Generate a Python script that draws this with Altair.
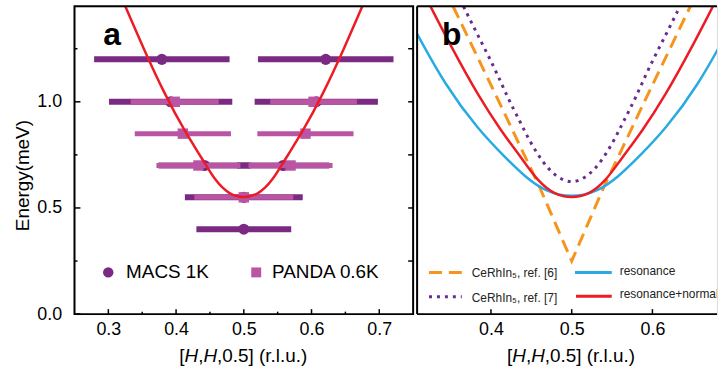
import altair as alt
import pandas as pd

# ---------------- data ----------------
# panel a: MACS 1K (circles) with horizontal error bars
macs_h = [0.379, 0.621, 0.392, 0.607, 0.442, 0.558, 0.500, 0.500]
macs_E = [1.20, 1.20, 1.00, 1.00, 0.70, 0.70, 0.55, 0.40]
macs_err = [0.100, 0.100, 0.091, 0.091, 0.068, 0.068, 0.087, 0.070]

# panel a: PANDA 0.6K (squares) with horizontal error bars
panda_h = [0.398, 0.603, 0.410, 0.591, 0.433, 0.569, 0.500]
panda_E = [1.00, 1.00, 0.85, 0.85, 0.70, 0.70, 0.55]
panda_err = [0.065, 0.064, 0.071, 0.071, 0.062, 0.062, 0.073]

# resonance+normal (red) dispersion, used in both panels
red_h = [0.325, 0.352, 0.384, 0.413, 0.438, 0.458, 0.479, 0.500,
         0.521, 0.542, 0.562, 0.587, 0.616, 0.648, 0.675]
red_E = [1.45, 1.25, 1.03, 0.86, 0.735, 0.626, 0.562, 0.546,
         0.562, 0.626, 0.735, 0.86, 1.03, 1.25, 1.45]

# resonance (blue)
blue_h = [0.3085, 0.343, 0.384, 0.417, 0.442, 0.466, 0.500,
          0.534, 0.558, 0.583, 0.616, 0.657, 0.6915]
blue_E = [1.32, 1.08, 0.87, 0.74, 0.648, 0.580, 0.546,
          0.580, 0.648, 0.74, 0.87, 1.08, 1.32]

# CeRhIn5 ref [7] (purple dotted)
purple_h = [0.366, 0.384, 0.405, 0.421, 0.436, 0.446, 0.458, 0.470, 0.483, 0.500,
            0.517, 0.530, 0.542, 0.554, 0.564, 0.579, 0.595, 0.616, 0.634]
purple_E = [1.449, 1.311, 1.156, 1.016, 0.907, 0.829, 0.751, 0.688, 0.642, 0.615,
            0.642, 0.688, 0.751, 0.829, 0.907, 1.016, 1.156, 1.311, 1.449]

# CeRhIn5 ref [6] (orange dashed)
orange_h = [0.353, 0.410, 0.460, 0.500, 0.540, 0.590, 0.647]
orange_E = [1.45, 1.00, 0.60, 0.25, 0.60, 1.00, 1.45]

# ticks
ya_major = [0.0, 0.5, 1.0]
ya_minor = [0.25, 0.75, 1.25]
ya_right = [0.25, 0.5, 0.75, 1.0, 1.25]
xa_major = [0.3, 0.4, 0.5, 0.6, 0.7]
xa_minor = [0.35, 0.45, 0.55, 0.65]
xb_major = [0.4, 0.5, 0.6]

# x-axis title pieces: (text, italic)
xtitle_parts = [("[", False), ("H", True), (",", False), ("H", True), (",0.5] (r.l.u.)", False)]

# ---------------- styling ----------------
FONT = "Liberation Sans"
W_A, W_B, H = 341, 302, 310
YDOM = [0, 1.45]
XDOM_A = [0.25, 0.75]
XDOM_B = [0.3085, 0.68]
C_MACS = "#7B2A83"
C_PANDA = "#BA55A3"
C_RED = "#ED1C24"
C_BLUE = "#29ABE2"
C_ORANGE = "#F7941D"
C_PURPLE = "#662D91"
FS = 18      # tick labels
FT = 19      # axis titles / legend a

# approximate Arial/Liberation advance widths (em) for the title pieces
ADV = {"[": 0.278, "]": 0.278, "H": 0.722, ",": 0.278, "0": 0.556, "5": 0.556, ".": 0.278,
       " ": 0.278, "(": 0.333, ")": 0.333, "r": 0.333, "l": 0.222, "u": 0.556}


def x_axis(values):
    return alt.Axis(values=values, format=".1f", ticks=False, domain=False, grid=False,
                    labelFont=FONT, labelFontSize=FS, labelColor="black", labelPadding=7)


AX_XA = x_axis(xa_major)
AX_XB = x_axis(xb_major)
AX_YA = alt.Axis(values=ya_major, format=".1f", ticks=False, domain=False, grid=False,
                 labelFont=FONT, labelFontSize=FS, labelColor="black", labelPadding=13,
                 titleFont=FONT, titleFontSize=FT, titleFontWeight="normal",
                 titleColor="black", titlePadding=4, titleY=170)


def X(field, dom, axis):
    return alt.X(f"{field}:Q", scale=alt.Scale(domain=dom, nice=False, zero=False),
                 axis=axis, title="")


def Y(field, axis):
    if axis is None:
        return alt.Y(f"{field}:Q", scale=alt.Scale(domain=YDOM, nice=False, zero=False),
                     axis=None)
    return alt.Y(f"{field}:Q", scale=alt.Scale(domain=YDOM, nice=False, zero=False),
                 axis=axis, title="Energy(meV)")


one = pd.DataFrame({"k": [0]})


def x_title(center):
    total = sum(ADV[c] for t, _ in xtitle_parts for c in t) * FT
    x = center - total / 2
    out = []
    for t, it in xtitle_parts:
        kw = dict(text=t, font=FONT, fontSize=FT, align="left", baseline="alphabetic",
                  color="black")
        if it:
            kw["fontStyle"] = "italic"
        out.append(alt.Chart(one).mark_text(**kw).encode(x=alt.value(x), y=alt.value(H + 48)))
        x += sum(ADV[c] for c in t) * FT
    return out


# ---------------- panel a ----------------
macs = pd.DataFrame({"h": macs_h, "E": macs_E,
                     "lo": [h - e for h, e in zip(macs_h, macs_err)],
                     "hi": [h + e for h, e in zip(macs_h, macs_err)]})
panda = pd.DataFrame({"h": panda_h, "E": panda_E,
                      "lo": [h - e for h, e in zip(panda_h, panda_err)],
                      "hi": [h + e for h, e in zip(panda_h, panda_err)]})
red = pd.DataFrame({"h": red_h, "E": red_E})

macs_bars = alt.Chart(macs).mark_rule(color=C_MACS, strokeWidth=6).encode(
    x=X("lo", XDOM_A, AX_XA), x2="hi:Q", y=Y("E", AX_YA))
macs_pts = alt.Chart(macs).mark_circle(color=C_MACS, size=125, opacity=1).encode(
    x=X("h", XDOM_A, AX_XA), y=Y("E", AX_YA))
panda_bars = alt.Chart(panda).mark_rule(color=C_PANDA, strokeWidth=5).encode(
    x=X("lo", XDOM_A, AX_XA), x2="hi:Q", y=Y("E", AX_YA))
panda_pts = alt.Chart(panda).mark_square(color=C_PANDA, size=110, opacity=1).encode(
    x=X("h", XDOM_A, AX_XA), y=Y("E", AX_YA))
red_a = alt.Chart(red).mark_line(color=C_RED, strokeWidth=2.5, interpolate="basis",
                                 clip=True).encode(
    x=X("h", XDOM_A, AX_XA), y=Y("E", AX_YA), order="h:Q")

frame_a = alt.Chart(one).mark_rect(filled=False, stroke="black", strokeWidth=2).encode(
    x=alt.value(0), x2=alt.value(W_A), y=alt.value(0), y2=alt.value(H))

tl_major = alt.Chart(pd.DataFrame({"E": ya_major})).mark_rule(color="black", strokeWidth=1.5).encode(
    y=Y("E", AX_YA), x=alt.value(0), x2=alt.value(6))
tl_minor = alt.Chart(pd.DataFrame({"E": ya_minor})).mark_rule(color="black", strokeWidth=1.5).encode(
    y=Y("E", AX_YA), x=alt.value(0), x2=alt.value(3))
tr = alt.Chart(pd.DataFrame({"E": ya_right})).mark_rule(color="black", strokeWidth=1.5).encode(
    y=Y("E", AX_YA), x=alt.value(W_A - 5), x2=alt.value(W_A))
tb_major = alt.Chart(pd.DataFrame({"h": xa_major})).mark_rule(color="black", strokeWidth=1.5).encode(
    x=X("h", XDOM_A, AX_XA), y=alt.value(H - 5), y2=alt.value(H))
tb_minor = alt.Chart(pd.DataFrame({"h": xa_minor})).mark_rule(color="black", strokeWidth=1.5).encode(
    x=X("h", XDOM_A, AX_XA), y=alt.value(H - 2.5), y2=alt.value(H))

label_a = alt.Chart(one).mark_text(text="a", font=FONT, fontSize=32, fontWeight="bold",
                                   align="left", baseline="alphabetic", color="black").encode(
    x=alt.value(29), y=alt.value(39))

leg_a_c = alt.Chart(one).mark_circle(color=C_MACS, size=110, opacity=1).encode(
    x=alt.value(34), y=alt.value(268))
leg_a_ct = alt.Chart(one).mark_text(text="MACS 1K", font=FONT, fontSize=FT, align="left",
                                    baseline="middle", color="black").encode(
    x=alt.value(52), y=alt.value(268))
leg_a_s = alt.Chart(one).mark_square(color=C_PANDA, size=100, opacity=1).encode(
    x=alt.value(183), y=alt.value(268))
leg_a_st = alt.Chart(one).mark_text(text="PANDA 0.6K", font=FONT, fontSize=FT, align="left",
                                    baseline="middle", color="black").encode(
    x=alt.value(199), y=alt.value(268))

panel_a = alt.layer(
    macs_bars, macs_pts, panda_bars, panda_pts, red_a,
    tl_major, tl_minor, tr, tb_major, tb_minor,
    leg_a_c, leg_a_ct, leg_a_s, leg_a_st, label_a, frame_a,
    *x_title(170.5),
).properties(width=W_A, height=H)

# ---------------- panel b ----------------
curves = [
    (pd.DataFrame({"h": orange_h, "E": orange_E}), C_ORANGE, [13, 7], "linear"),
    (pd.DataFrame({"h": purple_h, "E": purple_E}), C_PURPLE, [3, 5], "basis"),
    (pd.DataFrame({"h": blue_h, "E": blue_E}), C_BLUE, None, "basis"),
    (pd.DataFrame({"h": red_h, "E": red_E}), C_RED, None, "basis"),
]
b_layers = []
for df, col, dash, interp in curves:
    kw = dict(color=col, strokeWidth=3 if dash else 2.5, interpolate=interp, clip=True)
    if dash:
        kw["strokeDash"] = dash
    b_layers.append(alt.Chart(df).mark_line(**kw).encode(
        x=X("h", XDOM_B, AX_XB), y=Y("E", None), order="h:Q"))

tbb = alt.Chart(pd.DataFrame({"h": xb_major})).mark_rule(color="black", strokeWidth=1.5).encode(
    x=X("h", XDOM_B, AX_XB), y=alt.value(H - 5), y2=alt.value(H))
top_b = alt.Chart(one).mark_rule(color="black", strokeWidth=2).encode(
    x=alt.value(0), x2=alt.value(W_B), y=alt.value(0))
bot_b = alt.Chart(one).mark_rule(color="black", strokeWidth=2).encode(
    x=alt.value(0), x2=alt.value(W_B), y=alt.value(H))
left_b = alt.Chart(one).mark_rule(color="black", strokeWidth=2).encode(
    x=alt.value(0), y=alt.value(0), y2=alt.value(H))

label_b = alt.Chart(one).mark_text(text="b", font=FONT, fontSize=32, fontWeight="bold",
                                   align="left", baseline="alphabetic", color="black").encode(
    x=alt.value(25), y=alt.value(39))

leg_items = [
    # (x1, x2, y, color, dash, text, tx, ty)
    (12, 45, 268, C_ORANGE, [13, 7], "CeRhIn\u2085, ref. [6]", 55, 269),
    (12, 45, 292.5, C_PURPLE, [3, 5], "CeRhIn\u2085, ref. [7]", 55, 294),
    (159, 196, 268, C_BLUE, None, "resonance", 204, 267),
    (160, 196, 292, C_RED, None, "resonance+normal", 204, 290),
]
for x1, x2, yy, col, dash, txt, tx, ty in leg_items:
    kw = dict(color=col, strokeWidth=3)
    if dash:
        kw["strokeDash"] = dash
    b_layers.append(alt.Chart(one).mark_rule(**kw).encode(
        x=alt.value(x1), x2=alt.value(x2), y=alt.value(yy)))
    b_layers.append(alt.Chart(one).mark_text(text=txt, font=FONT, fontSize=12, align="left",
                                             baseline="middle", color="#222222",
                                             clip=True).encode(
        x=alt.value(tx), y=alt.value(ty)))

panel_b = alt.layer(*b_layers, tbb, label_b, top_b, bot_b, left_b,
                    *x_title(155.5)).properties(width=W_B, height=H)

chart = alt.hconcat(panel_a, panel_b, spacing=0).properties(
    padding={"left": 13, "top": 3, "right": 0, "bottom": 8}
).configure_view(strokeOpacity=0).configure(font=FONT)

chart.save("out.html", embed_options={"renderer": "svg", "actions": False})
